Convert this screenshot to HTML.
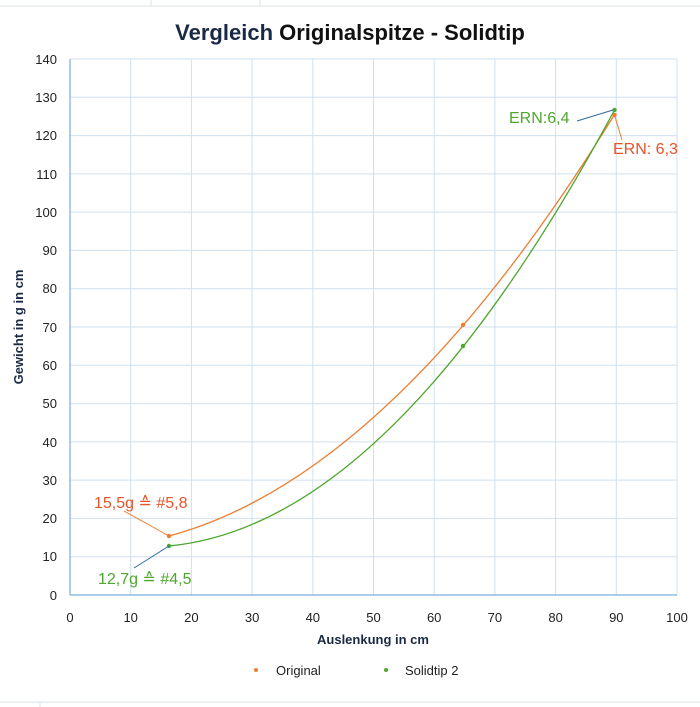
<!DOCTYPE html>
<html><head><meta charset="utf-8"><style>
body{margin:0;background:#fff;}
svg{display:block;font-family:"Liberation Sans",sans-serif;}
</style></head><body>
<svg width="700" height="707" viewBox="0 0 700 707" xmlns="http://www.w3.org/2000/svg">
<rect width="700" height="707" fill="#fff"/>
<g stroke="#dde3ea" stroke-width="1">
<line x1="0" y1="6" x2="700" y2="6"/><line x1="0" y1="702" x2="700" y2="702"/>
<line x1="40" y1="702" x2="40" y2="707"/><line x1="151" y1="0" x2="151" y2="6"/><line x1="260" y1="0" x2="260" y2="6"/>
</g>
<text x="350" y="40" text-anchor="middle" font-size="22" font-weight="bold" fill="#111"><tspan fill="#1a2a44">Vergleich</tspan> Originalspitze - Solidtip</text>
<g stroke="#cfe0ef" stroke-width="1">
<line x1="130.7" y1="59" x2="130.7" y2="595"/><line x1="191.4" y1="59" x2="191.4" y2="595"/><line x1="252.1" y1="59" x2="252.1" y2="595"/><line x1="312.8" y1="59" x2="312.8" y2="595"/><line x1="373.5" y1="59" x2="373.5" y2="595"/><line x1="434.2" y1="59" x2="434.2" y2="595"/><line x1="494.9" y1="59" x2="494.9" y2="595"/><line x1="555.6" y1="59" x2="555.6" y2="595"/><line x1="616.3" y1="59" x2="616.3" y2="595"/><line x1="677" y1="59" x2="677" y2="595"/>
<line x1="70" y1="59" x2="677" y2="59"/><line x1="70" y1="97.3" x2="677" y2="97.3"/><line x1="70" y1="135.6" x2="677" y2="135.6"/><line x1="70" y1="173.9" x2="677" y2="173.9"/><line x1="70" y1="212.1" x2="677" y2="212.1"/><line x1="70" y1="250.4" x2="677" y2="250.4"/><line x1="70" y1="288.7" x2="677" y2="288.7"/><line x1="70" y1="327" x2="677" y2="327"/><line x1="70" y1="365.3" x2="677" y2="365.3"/><line x1="70" y1="403.6" x2="677" y2="403.6"/><line x1="70" y1="441.9" x2="677" y2="441.9"/><line x1="70" y1="480.1" x2="677" y2="480.1"/><line x1="70" y1="518.4" x2="677" y2="518.4"/><line x1="70" y1="556.7" x2="677" y2="556.7"/>
</g>
<line x1="70" y1="59" x2="70" y2="595" stroke="#7aaedc" stroke-width="1.2"/>
<line x1="70" y1="595" x2="677" y2="595" stroke="#7aaedc" stroke-width="1.2"/>
<g stroke="#7aaedc" stroke-width="1" id="ticks"></g>
<g font-size="13" fill="#222" text-anchor="end">
<text x="57" y="64">140</text><text x="57" y="102">130</text><text x="57" y="140">120</text><text x="57" y="179">110</text><text x="57" y="217">100</text><text x="57" y="255">90</text><text x="57" y="293">80</text><text x="57" y="332">70</text><text x="57" y="370">60</text><text x="57" y="408">50</text><text x="57" y="447">40</text><text x="57" y="485">30</text><text x="57" y="523">20</text><text x="57" y="561">10</text><text x="57" y="600">0</text>
</g>
<g font-size="13" fill="#222" text-anchor="middle">
<text x="70" y="622">0</text><text x="130.7" y="622">10</text><text x="191.4" y="622">20</text><text x="252.1" y="622">30</text><text x="312.8" y="622">40</text><text x="373.5" y="622">50</text><text x="434.2" y="622">60</text><text x="494.9" y="622">70</text><text x="555.6" y="622">80</text><text x="616.3" y="622">90</text><text x="677" y="622">100</text>
</g>
<text x="373" y="644" text-anchor="middle" font-size="13" font-weight="bold" fill="#1a2a44">Auslenkung in cm</text>
<text transform="translate(23,327) rotate(-90)" text-anchor="middle" font-size="13" font-weight="bold" fill="#1a2a44">Gewicht in g in cm</text>
<path d="M169,536 Q391.7,476.1 614.5,114.5" fill="none" stroke="#ed7d31" stroke-width="1.3"/>
<path d="M169,546 Q391.7,525 614.5,110" fill="none" stroke="#4ea72e" stroke-width="1.3"/>
<g fill="#ed7d31"><circle cx="169" cy="536" r="2.2"/><circle cx="463" cy="325" r="2.2"/><circle cx="614.5" cy="115" r="2.2"/></g>
<g fill="#4ea72e"><circle cx="169" cy="546" r="2.2"/><circle cx="463" cy="346" r="2.2"/><circle cx="614.5" cy="110" r="2.2"/></g>
<line x1="124" y1="511" x2="169" y2="536" stroke="#ed7d31" stroke-width="1"/>
<line x1="134" y1="568" x2="169" y2="546" stroke="#2e6b9a" stroke-width="1"/>
<line x1="577" y1="121" x2="613" y2="110" stroke="#2e6b9a" stroke-width="1"/>
<line x1="614.5" y1="115" x2="622" y2="140" stroke="#ed7d31" stroke-width="1"/>
<g font-size="16">
<text x="94" y="508" fill="#e8542a">15,5g ≙ #5,8</text>
<text x="98" y="584" fill="#4ea72e">12,7g ≙ #4,5</text>
<text x="509" y="123" fill="#4ea72e">ERN:6,4</text>
<text x="613" y="154" fill="#e8542a">ERN: 6,3</text>
</g>
<circle cx="256" cy="670" r="2" fill="#ed7d31"/>
<text x="276" y="675" font-size="13" fill="#222">Original</text>
<circle cx="386" cy="670" r="2" fill="#4ea72e"/>
<text x="405" y="675" font-size="13" fill="#222">Solidtip 2</text>
<script>
var g=document.getElementById('ticks'),s='';
for(var i=0;i<=70;i++){var y=595-i*7.657;if(y<59)break;s+='<line x1="67" y1="'+y+'" x2="70" y2="'+y+'"/>';}
g.innerHTML=s;
</script>
</svg>
</body></html>
